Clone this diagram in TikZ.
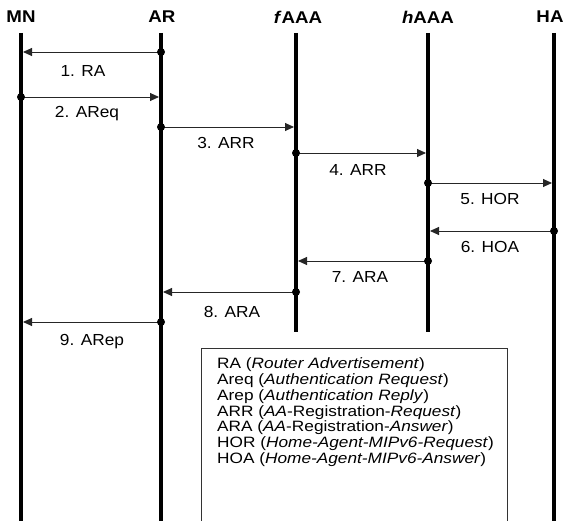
\documentclass[tikz,border=0pt]{standalone}
\usepackage{fontspec}
\newfontfamily\arial{Liberation Sans}
\usepackage{tikz}
\usetikzlibrary{arrows.meta}
\usetikzlibrary{calc}

\begin{document}
\begin{tikzpicture}[x=1pt, y=-1pt,
    hdr/.style={font=\arial\bfseries\fontsize{17}{20}\selectfont, xscale=1.1},
    lbl/.style={font=\arial\fontsize{16}{18}\selectfont, xscale=1.08},
    keyline/.style={font=\arial\fontsize{15}{17}\selectfont, anchor=base west, inner sep=0pt, xscale=1.15},
    life/.style={line width=3.8pt},
    msg/.style={draw=black!85, line width=0.9pt, -{Triangle[length=9pt,width=8pt]}},
    dot/.style={fill=black}]

  \useasboundingbox (0,0) rectangle (563,521);

	% lifelines
	\def\xmn{21}; \def\xar{161}; \def\xfa{296}; \def\xha{428}; \def\xhm{554};
	\def\top{33}; \def\bot{521}; \def\mid{332};
	\node[hdr] (mn) at (\xmn, 17) {MN};
	\node[hdr] (ar) at (\xar+1, 17) {AR};
	\node[hdr] (faaa) at (\xfa+2, 17) {\textit{f}AAA};
	\node[hdr] (haaa) at (\xha, 17) {\textit{h}AAA};
	\node[hdr] (ha) at (\xhm-4, 17) {HA};
	\draw[life] (\xmn, \top) -- (\xmn, \bot);
	\draw[life] (\xar, \top) -- (\xar, \bot);
	\draw[life] (\xfa, \top) -- (\xfa, \mid);
	\draw[life] (\xha, \top) -- (\xha, \mid);
	\draw[life] (\xhm, \top) -- (\xhm, \bot);

	% 1. RA
	\coordinate (m1s) at (\xar, 52); \coordinate (m1e) at (\xmn+2, 52);
	\draw[msg] (m1s) -- (m1e); \fill[dot] (m1s) circle (4);
	\node[lbl] (l1) at (83, 71) {1. RA};
	% 2. AReq
	\coordinate (m2s) at (\xmn, 97); \coordinate (m2e) at (\xar-2, 97);
	\draw[msg] (m2s) -- (m2e); \fill[dot] (m2s) circle (4);
	\node[lbl] (l2) at (87, 114) {2. AReq};
	% 3. ARR
	\coordinate (m3s) at (\xar, 127); \coordinate (m3e) at (\xfa-2, 127);
	\draw[msg] (m3s) -- (m3e); \fill[dot] (m3s) circle (4);
	\node[lbl] (l3) at (226, 143) {3. ARR};
	% 4. ARR
	\coordinate (m4s) at (\xfa, 153); \coordinate (m4e) at (\xha-2, 153);
	\draw[msg] (m4s) -- (m4e); \fill[dot] (m4s) circle (4);
	\node[lbl] (l4) at (358, 170) {4. ARR};
	% 5. HOR
	\coordinate (m5s) at (\xha, 183); \coordinate (m5e) at (\xhm-2, 183);
	\draw[msg] (m5s) -- (m5e); \fill[dot] (m5s) circle (4);
	\node[lbl] (l5) at (490, 199) {5. HOR};
	% 6. HOA
	\coordinate (m6s) at (\xhm, 231); \coordinate (m6e) at (\xha+2, 231);
	\draw[msg] (m6s) -- (m6e); \fill[dot] (m6s) circle (4);
	\node[lbl] (l6) at (490, 247) {6. HOA};
	% 7. ARA
	\coordinate (m7s) at (\xha, 261); \coordinate (m7e) at (\xfa+2, 261);
	\draw[msg] (m7s) -- (m7e); \fill[dot] (m7s) circle (4);
	\node[lbl] (l7) at (360, 277) {7. ARA};
	% 8. ARA
	\coordinate (m8s) at (\xfa, 292); \coordinate (m8e) at (\xar+2, 292);
	\draw[msg] (m8s) -- (m8e); \fill[dot] (m8s) circle (4);
	\node[lbl] (l8) at (232, 312) {8. ARA};
	% 9. ARep
	\coordinate (m9s) at (\xar, 322); \coordinate (m9e) at (\xmn+2, 322);
	\draw[msg] (m9s) -- (m9e); \fill[dot] (m9s) circle (4);
	\node[lbl] (l9) at (92, 342) {9. ARep};

	% legend
	\draw[black!80, line width=0.9pt] (201, 521) -- (201, 348) -- (507, 348) -- (507, 521);
	\def\dl{15.7};
	\node[keyline] (k1) at (217, 369) {RA (\textit{Router Advertisement})};
	\node[keyline] (k2) at (217, 369+\dl) {Areq (\textit{Authentication Request})};
	\node[keyline] (k3) at (217, 369+2*\dl) {Arep (\textit{Authentication Reply})};
	\node[keyline] (k4) at (217, 369+3*\dl) {ARR (\textit{AA}-Registration-\textit{Request})};
	\node[keyline] (k5) at (217, 369+4*\dl) {ARA (\textit{AA}-Registration-\textit{Answer})};
	\node[keyline] (k6) at (217, 369+5*\dl) {HOR (\textit{Home-Agent-MIPv6-Request})};
	\node[keyline] (k7) at (217, 369+6*\dl) {HOA (\textit{Home-Agent-MIPv6-Answer})};

\end{tikzpicture}
\end{document}
